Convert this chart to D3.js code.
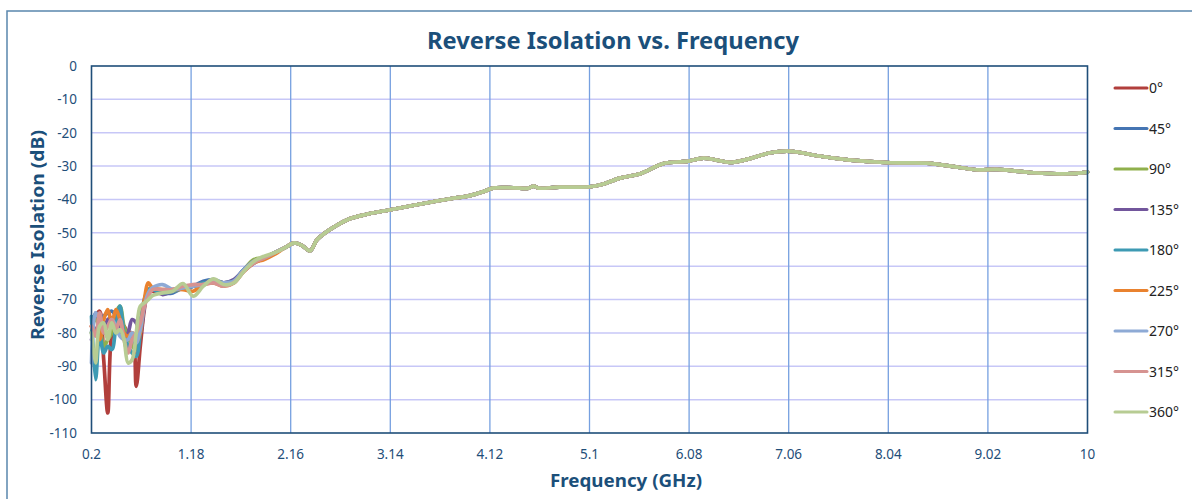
<!DOCTYPE html>
<html>
<head>
<meta charset="utf-8">
<script src="https://cdn.jsdelivr.net/npm/d3@7"></script>
<style>
  html, body { margin: 0; padding: 0; background: #fff; }
  svg { display: block; }
  text { font-family: "Noto Sans", "Open Sans", sans-serif; }
</style>
</head>
<body>
<svg id="chart" width="1192" height="499"></svg>
<script>
// ---------- DATA ----------
const seriesNames = ["0°", "45°", "90°", "135°", "180°", "225°", "270°", "315°", "360°"];
const xTickLabels = ["0.2", "1.18", "2.16", "3.14", "4.12", "5.1", "6.08", "7.06", "8.04", "9.02", "10"];
const yTickValues = [0, -10, -20, -30, -40, -50, -60, -70, -80, -90, -100, -110];

// low-frequency grid (GHz) where the phase states differ
const lowFreq = [0.2, 0.24, 0.28, 0.32, 0.36, 0.40, 0.44, 0.48, 0.52, 0.56, 0.60, 0.64, 0.68, 0.72, 0.76,
                 0.8, 0.9, 1.0, 1.1, 1.2, 1.3, 1.4, 1.5, 1.6, 1.7, 1.8, 1.9, 2.0, 2.1];
const low0   = [-78, -75, -73.5, -88, -104, -80, -77, -77, -78, -80, -80, -96, -84, -73, -67,
                -67.5, -67.5, -67, -66.5, -66, -65.5, -64.5, -65, -64.5, -61.5, -59, -57.5, -56, -54.5];
const low45  = [-80, -74, -77, -75, -74, -73.5, -75, -78, -80, -81, -82, -83, -76, -70, -67,
                -67, -68, -68, -66.5, -66, -64.5, -64, -65, -64.5, -61, -58.5, -57.5, -56, -54.5];
const low90  = [-80, -76, -78, -84, -82, -80, -74, -72, -78, -81, -84, -85, -78, -71, -67,
                -67, -67.5, -67.5, -66.5, -66, -65.5, -64.5, -65, -64.5, -61, -58, -57.5, -56, -54.5];
const low135 = [-82, -79, -78, -80, -76, -75.5, -76, -80, -82, -80, -76, -77, -80, -72, -67.5,
                -67, -68.5, -67.5, -66.5, -66, -65, -64.5, -65, -64, -61, -58.5, -57.5, -56, -54.5];
const low180 = [-75, -94, -80, -86, -84, -85, -78, -72, -80, -84, -86, -87, -80, -71, -67,
                -67, -68, -67.5, -66.5, -66, -65, -65, -65, -64.5, -61, -59, -57.5, -56, -54.5];
const low225 = [-78, -80, -82, -76, -73, -77, -73, -76, -80, -81, -80, -83, -80, -70, -65,
                -66.5, -67, -67, -67, -67.5, -65.5, -65, -66, -65, -61.5, -59, -58, -56.5, -54.5];
const low270 = [-89, -74, -76, -79, -78, -76, -78, -81, -82, -82, -80, -83, -79, -72, -68,
                -66.5, -65.5, -67, -66.5, -66, -65.5, -64.5, -65, -64.5, -61, -58.5, -57.5, -56, -54.5];
const low315 = [-78, -81, -74, -80, -78, -76, -79, -76, -82, -86, -82, -80, -77, -72, -69,
                -67, -67, -67, -66, -65.5, -65.5, -65, -66, -65, -61.5, -59, -57.5, -56, -54.5];
const low360 = [-80, -89, -78, -77, -82, -77, -80, -79, -82, -89, -88, -80, -72, -71, -70,
                -68.8, -68, -67.5, -65.2, -69, -66, -63.8, -65.5, -65, -61.5, -58.5, -57, -56, -54.5];

// shared part above ~2.2 GHz (all phase states coincide)
const highFreq = [2.2, 2.28, 2.35, 2.42, 2.5, 2.6, 2.74, 2.9, 3.14, 3.4, 3.73, 3.9, 4.06, 4.15, 4.35, 4.5,
                  4.55, 4.6, 4.8, 5.1, 5.22, 5.4, 5.6, 5.83, 6.06, 6.22, 6.35, 6.48, 6.65, 6.88, 7.04,
                  7.15, 7.34, 7.67, 8.06, 8.42, 8.65, 8.91, 9.11, 9.47, 9.8, 10];
const highVal  = [-53, -54, -55.4, -52, -50, -48, -45.8, -44.5, -43.1, -41.6, -39.8, -39, -37.6, -36.6, -36.5, -36.6,
                  -36.0, -36.6, -36.3, -36.2, -35.5, -33.6, -32.3, -29.2, -28.6, -27.6, -28.2, -28.9, -28.0, -26.0, -25.5,
                  -25.8, -26.9, -28.2, -29.0, -29.1, -30.0, -31.1, -31.0, -32.0, -32.3, -31.8];

const lowSets = [low0, low45, low90, low135, low180, low225, low270, low315, low360];
const colors = ["#b13f3c", "#4575b3", "#8fb04c", "#72569c", "#3d9ab3", "#e9822f", "#8eaad5", "#d69391", "#b7cc93"];

// ---------- LAYOUT ----------
const svg = d3.select("#chart");
const L = 91.5, R = 1087.5, T = 66, B = 433;
const x = d3.scaleLinear().domain([0.2, 10]).range([L, R]);
const y = d3.scaleLinear().domain([-110, 0]).range([B, T]);
const tickColor = "#1f4e79";

// outer chart border
svg.append("rect").attr("x", 7).attr("y", 11).attr("width", 1200).attr("height", 520)
  .attr("fill", "#fff").attr("stroke", "#5a86ad").attr("stroke-width", 1.5);

// horizontal gridlines
svg.append("g").selectAll("line").data(yTickValues.filter(v => v !== 0 && v !== -110)).join("line")
  .attr("x1", L).attr("x2", R).attr("y1", d => y(d)).attr("y2", d => y(d))
  .attr("stroke", "#c7c7f7").attr("stroke-width", 1.5);

// vertical gridlines
const xTickVals = xTickLabels.map(Number);
svg.append("g").selectAll("line").data(xTickVals.slice(1, -1)).join("line")
  .attr("x1", d => x(d)).attr("x2", d => x(d)).attr("y1", T).attr("y2", B)
  .attr("stroke", "#76a0e0").attr("stroke-width", 1.3);

// series
const line = d3.line().x(d => x(d[0])).y(d => y(d[1])).curve(d3.curveCatmullRom.alpha(0.5));
const gSeries = svg.append("g");
lowSets.forEach((lv, i) => {
  const pts = lowFreq.map((f, k) => [f, lv[k]]).concat(highFreq.map((f, k) => [f, highVal[k]]));
  gSeries.append("path").datum(pts).attr("d", line)
    .attr("fill", "none").attr("stroke", colors[i]).attr("stroke-width", 3.7)
    .attr("stroke-linejoin", "round").attr("stroke-linecap", "round");
});

// plot border
svg.append("rect").attr("x", L).attr("y", T).attr("width", R - L).attr("height", B - T)
  .attr("fill", "none").attr("stroke", "#1f4e79").attr("stroke-width", 1.6);

// y tick labels
svg.append("g").selectAll("text").data(yTickValues).join("text")
  .attr("x", 77).attr("y", d => y(d)).attr("dy", "0.36em")
  .attr("text-anchor", "end").attr("font-size", 13.5).attr("fill", tickColor)
  .text(d => d);

// x tick labels
svg.append("g").selectAll("text").data(xTickLabels).join("text")
  .attr("x", d => x(+d)).attr("y", 459)
  .attr("text-anchor", "middle").attr("font-size", 13.5).attr("fill", tickColor)
  .text(d => d);

// title
svg.append("text").attr("x", 613).attr("y", 48.5).attr("text-anchor", "middle")
  .attr("font-size", 24).attr("font-weight", "bold").attr("fill", "#1b4f7a")
  .attr("textLength", 372).attr("lengthAdjust", "spacingAndGlyphs")
  .text("Reverse Isolation vs. Frequency");

// axis titles
svg.append("text").attr("x", 626).attr("y", 487).attr("text-anchor", "middle")
  .attr("font-size", 18).attr("font-weight", "bold").attr("fill", "#1b4f7a")
  .attr("textLength", 152).attr("lengthAdjust", "spacingAndGlyphs")
  .text("Frequency (GHz)");

svg.append("text").attr("transform", "translate(44,235) rotate(-90)").attr("text-anchor", "middle")
  .attr("font-size", 18).attr("font-weight", "bold").attr("fill", "#1b4f7a")
  .attr("textLength", 210).attr("lengthAdjust", "spacingAndGlyphs")
  .text("Reverse Isolation (dB)");

// legend
const legY = d3.scalePoint().domain(seriesNames).range([88, 412]);
const leg = svg.append("g").selectAll("g").data(seriesNames).join("g")
  .attr("transform", d => `translate(0,${legY(d)})`);
leg.append("line").attr("x1", 1115).attr("x2", 1147).attr("y1", 0).attr("y2", 0)
  .attr("stroke", (d, i) => colors[i]).attr("stroke-width", 3).attr("stroke-linecap", "round");
leg.append("text").attr("x", 1149).attr("y", 0).attr("dy", "0.36em")
  .attr("font-size", 14).attr("fill", "#222").text(d => d);
</script>
</body>
</html>
